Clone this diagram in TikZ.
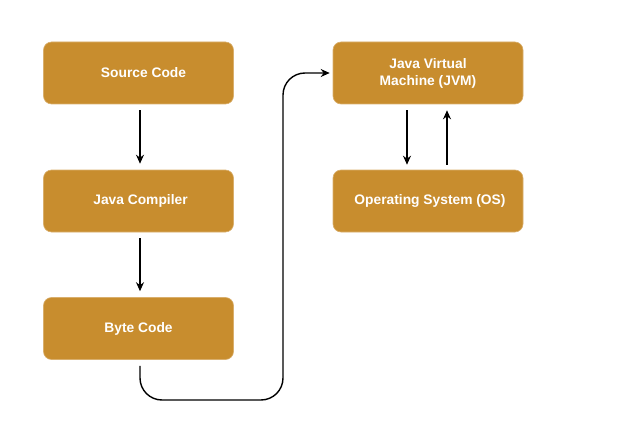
\documentclass[tikz,border=0pt]{standalone}
\usepackage{fontspec}
\setmainfont{Liberation Sans}
\usetikzlibrary{arrows.meta}
\definecolor{boxc}{HTML}{C88D2E}
\begin{document}
\begin{tikzpicture}[x=1pt,y=-1pt,
  box/.style={fill=boxc, draw=boxc!70!white, line width=0.6pt, rounded corners=8pt, minimum width=190pt, minimum height=62pt, text=white, font=\bfseries\fontsize{13.8}{17}\selectfont, align=center, inner sep=0pt},
  conn/.style={line width=1.4pt, -{Stealth[length=9pt,width=8pt]}}]
\useasboundingbox (0,0) rectangle (619,436);
\node[box] (src) at (138.5,73) {\hspace{10pt}Source Code};
\node[box] (comp) at (138.5,201) {\hspace{4pt}Java Compiler};
\node[box] (byte) at (138.5,328.5) {Byte Code};
\node[box] (jvm) at (428,73) {Java Virtual\\Machine (JVM)};
\node[box] (os) at (428,201) {\hspace{4pt}Operating System (OS)};
\draw[conn] ([yshift=-6pt]src.south -| 140,0) -- ([yshift=6pt]comp.north -| 140,0);
\draw[conn] ([yshift=-6pt]comp.south -| 140,0) -- ([yshift=6pt]byte.north -| 140,0);
\coordinate (c1) at (140,400);
\coordinate (c2) at (283,400);
\coordinate (c3) at (283,73);
\draw[conn, rounded corners=22pt] ([yshift=-6pt]byte.south -| 140,0) -- (c1) -- (c2) -- (c3) -- ([xshift=-3pt]jvm.west);
\draw[conn] ([yshift=-6pt]jvm.south -| 407,0) -- ([yshift=5pt]os.north -| 407,0);
\draw[conn] ([yshift=5pt]os.north -| 447,0) -- ([yshift=-6pt]jvm.south -| 447,0);
\end{tikzpicture}
\end{document}
